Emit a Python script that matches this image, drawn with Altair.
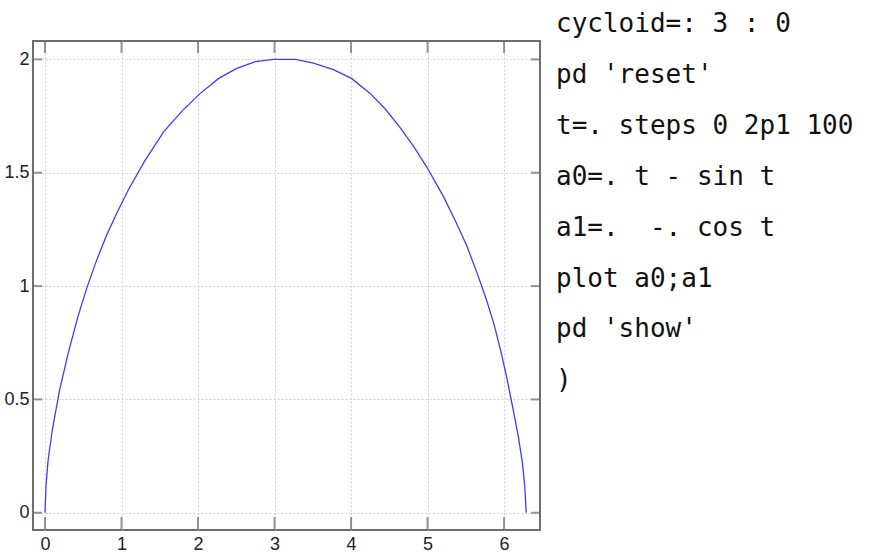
import altair as alt
import pandas as pd

# Curve points
curve_x = [0.0, 0.013, 0.04, 0.095, 0.19, 0.3, 0.43, 0.545, 0.67, 0.806,
           0.95, 1.09, 1.3, 1.55, 1.8, 2.03, 2.266, 2.506, 2.75, 2.985,
           3.27, 3.51, 3.77, 4.01, 4.25, 4.45, 4.64, 4.82, 4.99, 5.2,
           5.36, 5.51, 5.65, 5.77, 5.87, 5.96, 6.04, 6.11, 6.19, 6.24,
           6.27, 6.29]
curve_y = [0.0, 0.12, 0.23, 0.365, 0.54, 0.70, 0.865, 0.99, 1.11, 1.225,
           1.33, 1.425, 1.55, 1.68, 1.775, 1.85, 1.915, 1.96, 1.99, 2.0,
           2.0, 1.983, 1.955, 1.915, 1.85, 1.78, 1.70, 1.615, 1.525, 1.40,
           1.29, 1.18, 1.055, 0.94, 0.83, 0.71, 0.59, 0.47, 0.33, 0.22,
           0.12, 0.0]

x_ticks = [0, 1, 2, 3, 4, 5, 6]
y_ticks = [0, 0.5, 1, 1.5, 2]

code_lines = [
    "cycloid=: 3 : 0",
    "pd 'reset'",
    "t=. steps 0 2p1 100",
    "a0=. t - sin t",
    "a1=.\u00a0\u00a0-. cos t",
    "plot a0;a1",
    "pd 'show'",
    ")",
]

W, H = 507, 489
x_dom = [-0.157, 6.47]
y_dom = [-0.076, 2.081]

curve = pd.DataFrame({"x": curve_x, "y": curve_y, "i": list(range(len(curve_x)))})
xt = pd.DataFrame({"x": x_ticks})
yt = pd.DataFrame({"y": y_ticks})
code = pd.DataFrame({"line": list(range(len(code_lines))), "text": code_lines})

label_font = "Liberation Sans"
xscale = alt.Scale(domain=x_dom, nice=False, zero=False)
yscale = alt.Scale(domain=y_dom, nice=False, zero=False)

xaxis = alt.Axis(values=x_ticks, ticks=False, domain=False, grid=True,
                 gridDash=[2, 2], gridColor="#cfcfcf", gridWidth=1,
                 labelFont=label_font, labelFontSize=18, labelColor="#222",
                 labelPadding=5, format="~g", title=None, labelFlush=False)
yaxis = alt.Axis(values=y_ticks, ticks=False, domain=False, grid=True,
                 gridDash=[2, 2], gridColor="#cfcfcf", gridWidth=1,
                 labelFont=label_font, labelFontSize=18, labelColor="#222",
                 labelPadding=4, format="~g", title=None, labelFlush=False)

line = alt.Chart(curve).mark_line(color="#3c3cff", strokeWidth=1.3).encode(
    x=alt.X("x:Q", scale=xscale, axis=xaxis),
    y=alt.Y("y:Q", scale=yscale, axis=yaxis),
    order=alt.Order("i:Q"),
)

tick_color = "#6a6a6a"
bottom_ticks = alt.Chart(xt).mark_tick(color=tick_color, size=13, thickness=2).encode(
    x=alt.X("x:Q", scale=xscale), y=alt.value(H - 6.5))
top_ticks = alt.Chart(xt).mark_tick(color=tick_color, size=12, thickness=2).encode(
    x=alt.X("x:Q", scale=xscale), y=alt.value(6))
left_ticks = alt.Chart(yt).mark_tick(color=tick_color, size=9, thickness=2).encode(
    y=alt.Y("y:Q", scale=yscale, axis=None), x=alt.value(4.5))
right_ticks = alt.Chart(yt).mark_tick(color=tick_color, size=9, thickness=2).encode(
    y=alt.Y("y:Q", scale=yscale, axis=None), x=alt.value(W - 4.5))

text = alt.Chart(code).mark_text(
    font="DejaVu Sans Mono", fontSize=26, align="left", baseline="alphabetic",
    color="#111").encode(
    x=alt.value(523),
    y=alt.Y("line:Q", scale=alt.Scale(domain=[0, 7], range=[-9, 347.3]), axis=None),
    text="text:N",
)

chart = alt.layer(line, bottom_ticks, top_ticks, left_ticks, right_ticks, text).resolve_scale(
    y="independent"
).properties(
    width=W, height=H,
    autosize=alt.AutoSizeParams(type="none"),
    padding={"left": 33, "top": 41, "right": 338, "bottom": 23},
    background="white",
).configure_view(stroke="#6e6e6e", strokeWidth=2)

chart.save("out.html", embed_options={"renderer": "svg", "actions": False})
